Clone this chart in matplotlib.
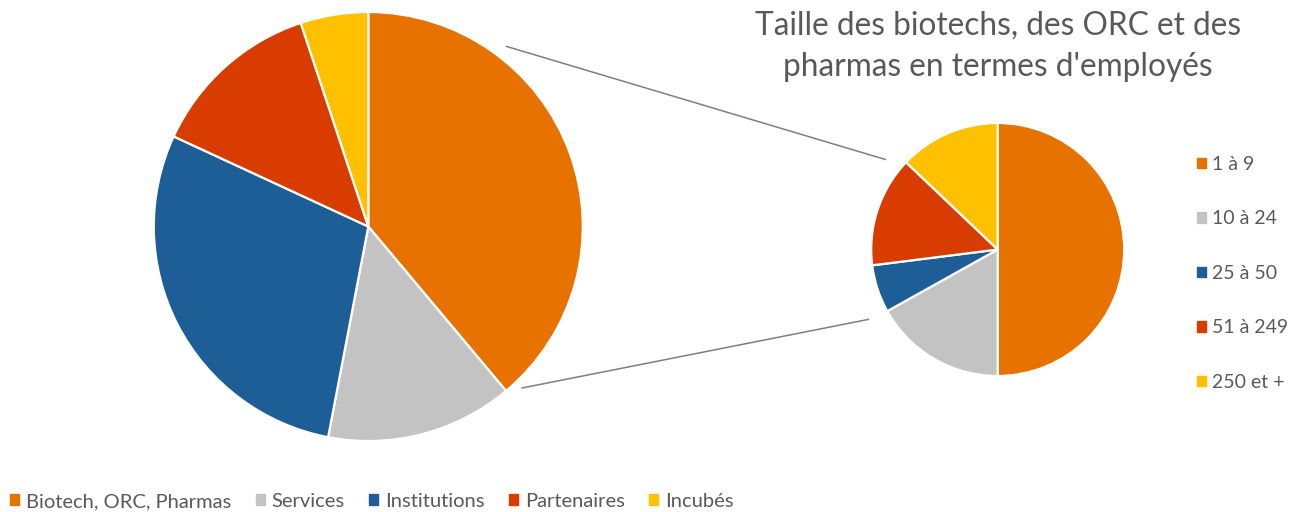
import matplotlib.pyplot as plt
from matplotlib.patches import Patch
import numpy as np

# Main pie: categories of members (%)
categories = ['Biotech, ORC, Pharmas', 'Services', 'Institutions', 'Partenaires', 'Incubés']
shares = [38.9, 14.1, 28.9, 13.0, 5.1]

# Secondary pie: size of biotechs / CRO / pharmas by employees (%)
sizes = ['1 à 9', '10 à 24', '25 à 50', '51 à 249', '250 et +']
size_shares = [50.0, 16.9, 6.1, 14.1, 12.9]

colors = ['#E87200', '#C3C3C3', '#1E5E96', '#D83C00', '#FFC000']
title = "Taille des biotechs, des ORC et des\npharmas en termes d'employés"

W, H = 1292, 512
plt.rcParams['font.family'] = ['Lato', 'DejaVu Sans']
fig = plt.figure(figsize=(W / 100, H / 100), dpi=100)
ax = fig.add_axes([0, 0, 1, 1])

big_c, big_r = (368.3, H - 226.5), 214.5
small_c, small_r = (997.7, H - 249.5), 126.5

wp = dict(edgecolor='white', linewidth=1.6)
ax.pie(shares, colors=colors, center=big_c, radius=big_r, startangle=90,
       counterclock=False, wedgeprops=wp)
ax.pie(size_shares, colors=colors, center=small_c, radius=small_r, startangle=90,
       counterclock=False, wedgeprops=wp)


def polar(c, r, ang):
    # angle in degrees, clockwise from 12 o'clock
    a = np.radians(ang)
    return c[0] + r * np.sin(a), c[1] + r * np.cos(a)


# connector lines between the two pies
for a1, r1, a2, r2 in [(37.5, 227, -51.3, 144), (136.4, 223, 241.6, 147)]:
    x1, y1 = polar(big_c, r1, a1)
    x2, y2 = polar(small_c, r2, a2)
    ax.plot([x1, x2], [y1, y2], color='#7F7F7F', lw=1.1)

ax.set_xlim(0, W)
ax.set_ylim(0, H)
ax.set_aspect('equal')
ax.axis('off')

ax.text(998, H - 46, title, ha='center', va='center', fontsize=22.8,
        color='#595959', linespacing=1.47)

# legends
leg_r = fig.legend(handles=[Patch(color=c, label=s) for c, s in zip(colors, sizes)],
                   loc='upper left', bbox_to_anchor=(1189 / W, 1 - 148 / H),
                   borderaxespad=0, frameon=False, fontsize=14, labelcolor='#595959',
                   handlelength=0.45, handleheight=0.45, handletextpad=0.35,
                   labelspacing=1.93)
leg_b = fig.legend(handles=[Patch(color=c, label=s) for c, s in zip(colors, categories)],
                   loc='center left', bbox_to_anchor=(2 / W, 1 - 501.5 / H), ncol=5,
                   borderaxespad=0, frameon=False, fontsize=14.5, labelcolor='#595959',
                   handlelength=0.45, handleheight=0.45, handletextpad=0.35,
                   columnspacing=1.2)

fig.savefig('out.png', dpi=100)
